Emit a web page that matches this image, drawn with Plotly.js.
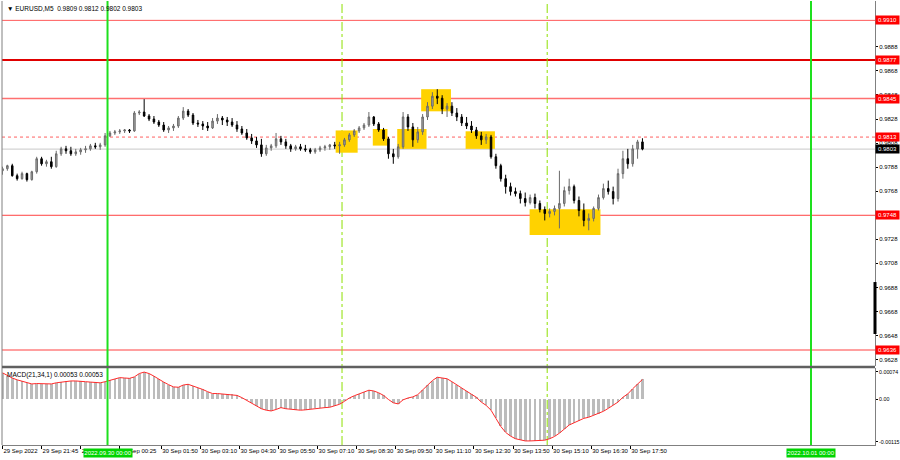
<!DOCTYPE html>
<html>
<head>
<meta charset="utf-8">
<script src="https://cdn.plot.ly/plotly-3.0.1.min.js"></script>
<style>html,body{margin:0;padding:0;background:#fff;}#chart{width:900px;height:460px;}</style>
</head>
<body>
<div id="chart"></div>
<script>
const symbol = 'EURUSD,M5';
const startTime = Date.UTC(2022, 8, 29, 20, 25);
const barMinutes = 10;

const open = [0.97850,0.97867,0.97892,0.97809,0.97784,0.97826,0.97776,0.97842,0.97950,0.97908,
0.97925,0.97884,0.97991,0.98032,0.98016,0.97991,0.98007,0.98024,0.98032,0.98057,
0.98049,0.98065,0.98140,0.98164,0.98173,0.98181,0.98189,0.98181,0.98330,0.98338,
0.98305,0.98280,0.98255,0.98230,0.98189,0.98206,0.98222,0.98288,0.98346,0.98313,
0.98247,0.98239,0.98222,0.98206,0.98263,0.98288,0.98272,0.98255,0.98230,0.98197,
0.98164,0.98123,0.98098,0.98065,0.97991,0.98040,0.98057,0.98115,0.98090,0.98057,
0.98032,0.98049,0.98032,0.98024,0.98007,0.98024,0.98040,0.98049,0.98065,0.98057,
0.98065,0.98107,0.98148,0.98181,0.98206,0.98230,0.98297,0.98239,0.98189,0.98115,
0.97991,0.97966,0.98049,0.98297,0.98214,0.98107,0.98173,0.98297,0.98387,0.98470,
0.98453,0.98363,0.98387,0.98330,0.98297,0.98247,0.98222,0.98189,0.98140,0.98107,
0.98131,0.97966,0.97892,0.97784,0.97718,0.97677,0.97660,0.97619,0.97586,0.97627,
0.97578,0.97528,0.97495,0.97512,0.97537,0.97578,0.97685,0.97718,0.97603,0.97520,
0.97437,0.97454,0.97537,0.97627,0.97702,0.97677,0.97619,0.97826,0.97950,0.97908,
0.98032,0.98090];

const high = [0.97884,0.97900,0.97908,0.97826,0.97842,0.97834,0.97850,0.97966,0.97966,0.97941,
0.97966,0.98016,0.98049,0.98057,0.98049,0.98032,0.98040,0.98057,0.98073,0.98082,
0.98082,0.98164,0.98181,0.98189,0.98197,0.98197,0.98197,0.98346,0.98354,0.98445,
0.98321,0.98305,0.98272,0.98255,0.98222,0.98239,0.98305,0.98379,0.98363,0.98330,
0.98272,0.98263,0.98255,0.98288,0.98321,0.98305,0.98297,0.98288,0.98263,0.98222,
0.98197,0.98156,0.98131,0.98115,0.98065,0.98073,0.98164,0.98140,0.98115,0.98073,
0.98065,0.98073,0.98065,0.98040,0.98040,0.98057,0.98065,0.98073,0.98090,0.98090,
0.98123,0.98164,0.98197,0.98222,0.98247,0.98338,0.98305,0.98255,0.98206,0.98131,
0.98032,0.98073,0.98338,0.98321,0.98247,0.98214,0.98321,0.98420,0.98503,0.98528,
0.98478,0.98412,0.98420,0.98371,0.98321,0.98297,0.98263,0.98214,0.98173,0.98156,
0.98148,0.97991,0.97908,0.97817,0.97751,0.97710,0.97685,0.97669,0.97652,0.97660,
0.97603,0.97553,0.97537,0.97561,0.97850,0.97718,0.97784,0.97735,0.97636,0.97578,
0.97495,0.97553,0.97652,0.97743,0.97768,0.97718,0.97867,0.98016,0.98032,0.98065,
0.98107,0.98120];

const low = [0.97817,0.97850,0.97801,0.97768,0.97776,0.97760,0.97768,0.97826,0.97892,0.97884,
0.97867,0.97875,0.97974,0.97991,0.97974,0.97974,0.97983,0.97999,0.98016,0.98032,
0.98024,0.98049,0.98131,0.98148,0.98156,0.98164,0.98164,0.98173,0.98313,0.98297,
0.98263,0.98239,0.98214,0.98173,0.98164,0.98181,0.98206,0.98272,0.98297,0.98230,
0.98214,0.98189,0.98181,0.98197,0.98239,0.98230,0.98222,0.98214,0.98173,0.98148,
0.98107,0.98073,0.98040,0.97966,0.97974,0.98016,0.98040,0.98065,0.98032,0.98007,
0.98016,0.98016,0.98007,0.97991,0.97991,0.98007,0.98016,0.98024,0.98032,0.97991,
0.98049,0.98090,0.98131,0.98164,0.98189,0.98214,0.98222,0.98173,0.98098,0.97950,
0.97908,0.97950,0.98032,0.98181,0.98049,0.98082,0.98148,0.98272,0.98363,0.98404,
0.98321,0.98297,0.98305,0.98263,0.98222,0.98197,0.98164,0.98115,0.98065,0.98073,
0.97950,0.97867,0.97760,0.97660,0.97644,0.97636,0.97578,0.97553,0.97570,0.97537,
0.97504,0.97437,0.97462,0.97479,0.97371,0.97553,0.97652,0.97578,0.97471,0.97388,
0.97355,0.97429,0.97520,0.97611,0.97652,0.97570,0.97594,0.97784,0.97867,0.97884,
0.97950,0.98020];

const close = [0.97867,0.97892,0.97809,0.97784,0.97826,0.97776,0.97842,0.97950,0.97908,0.97925,
0.97884,0.97991,0.98032,0.98016,0.97991,0.98007,0.98024,0.98032,0.98057,0.98049,
0.98065,0.98140,0.98164,0.98173,0.98181,0.98189,0.98181,0.98330,0.98338,0.98305,
0.98280,0.98255,0.98230,0.98189,0.98206,0.98222,0.98288,0.98346,0.98313,0.98247,
0.98239,0.98222,0.98206,0.98263,0.98288,0.98272,0.98255,0.98230,0.98197,0.98164,
0.98123,0.98098,0.98065,0.97991,0.98040,0.98057,0.98115,0.98090,0.98057,0.98032,
0.98049,0.98032,0.98024,0.98007,0.98024,0.98040,0.98049,0.98065,0.98057,0.98065,
0.98107,0.98148,0.98181,0.98206,0.98230,0.98297,0.98239,0.98189,0.98115,0.97991,
0.97966,0.98049,0.98297,0.98214,0.98107,0.98173,0.98297,0.98387,0.98470,0.98453,
0.98363,0.98387,0.98330,0.98297,0.98247,0.98222,0.98189,0.98140,0.98107,0.98131,
0.97966,0.97892,0.97784,0.97718,0.97677,0.97660,0.97619,0.97586,0.97627,0.97578,
0.97528,0.97495,0.97512,0.97537,0.97578,0.97685,0.97718,0.97603,0.97520,0.97437,
0.97454,0.97537,0.97627,0.97702,0.97677,0.97619,0.97826,0.97950,0.97908,0.98032,
0.98090,0.98030];

const macd = [0.00071,0.00063,0.00057,0.00052,0.00048,0.00043,0.00041,0.00042,0.00042,0.00041,
0.00041,0.00044,0.00046,0.00048,0.00049,0.00049,0.00049,0.00047,0.00046,0.00045,
0.00044,0.00047,0.00051,0.00055,0.00058,0.00057,0.00056,0.00060,0.00069,0.00073,
0.00069,0.00062,0.00053,0.00046,0.00039,0.00033,0.00032,0.00038,0.00040,0.00036,
0.00030,0.00026,0.00020,0.00015,0.00015,0.00014,0.00014,0.00013,0.00010,0.00004,
-0.00003,-0.00010,-0.00018,-0.00026,-0.00030,-0.00032,-0.00028,-0.00023,-0.00026,-0.00028,
-0.00030,-0.00030,-0.00029,-0.00027,-0.00025,-0.00024,-0.00023,-0.00022,-0.00019,-0.00014,
-0.00006,0.00003,0.00009,0.00015,0.00019,0.00024,0.00022,0.00017,0.00010,-0.00001,
-0.00010,-0.00013,-0.00002,0.00003,0.00006,0.00012,0.00025,0.00038,0.00050,0.00059,
0.00058,0.00055,0.00047,0.00038,0.00030,0.00022,0.00013,0.00005,-0.00008,-0.00017,
-0.00030,-0.00052,-0.00074,-0.00090,-0.00100,-0.00107,-0.00111,-0.00113,-0.00113,-0.00113,
-0.00112,-0.00111,-0.00107,-0.00101,-0.00092,-0.00080,-0.00070,-0.00064,-0.00058,-0.00052,
-0.00049,-0.00044,-0.00040,-0.00033,-0.00025,-0.00017,-0.00008,0.00005,0.00014,0.00028,
0.00042,0.00053];
const macdSignal = macd.slice();

const levelPrices = [0.9910, 0.9877, 0.9845, 0.9813, 0.9748, 0.9636];
const levelText = ['0.9910', '0.9877', '0.9845', '0.9813', '0.9748', '0.9636'];
const currentPrice = 0.9803;

const priceTicks = [0.9628,0.9648,0.9668,0.9688,0.9708,0.9728,0.9768,0.9788,0.9808,0.9828,0.9848,0.9868,0.9888];
const macdTicks = [0.00074, 0, -0.00115];
const macdTickText = ['0.00074', '0.00', '-0.00115'];

const timeTickVals = ['2022-09-29 20:25','2022-09-29 21:45','2022-09-29 23:05','2022-09-30 00:25','2022-09-30 01:50',
  '2022-09-30 03:10','2022-09-30 04:30','2022-09-30 05:50','2022-09-30 07:10','2022-09-30 08:30','2022-09-30 09:50',
  '2022-09-30 11:10','2022-09-30 12:30','2022-09-30 13:50','2022-09-30 15:10','2022-09-30 16:30','2022-09-30 17:50'];
const timeTickText = ['29 Sep 2022','29 Sep 21:45','29 Sep 23:05','30 Sep 00:25','30 Sep 01:50',
  '30 Sep 03:10','30 Sep 04:30','30 Sep 05:50','30 Sep 07:10','30 Sep 08:30','30 Sep 09:50',
  '30 Sep 11:10','30 Sep 12:30','30 Sep 13:50','30 Sep 15:10','30 Sep 16:30','30 Sep 17:50'];

const dayLines = ['2022-09-30 00:00', '2022-10-01 00:00'];
const dayLabels = ['2022.09.30 00:00', '2022.10.01 00:00'];
const sessionLines = ['2022-09-30 08:00', '2022-09-30 15:00'];

const zoneStart = ['2022-09-30 07:47','2022-09-30 09:03','2022-09-30 09:53','2022-09-30 10:42','2022-09-30 12:13','2022-09-30 14:24'];
const zoneEnd   = ['2022-09-30 08:32','2022-09-30 09:33','2022-09-30 10:53','2022-09-30 11:43','2022-09-30 13:13','2022-09-30 16:49'];
const zoneTop   = [0.98185, 0.98197, 0.98197, 0.98528, 0.98178, 0.97530];
const zoneBot   = [0.98000, 0.98059, 0.98032, 0.98344, 0.98032, 0.97316];

function fmt(ms){ return new Date(ms).toISOString().slice(0,16).replace('T',' '); }
const times = open.map(function(v, i){ return fmt(startTime + i * barMinutes * 60000); });

const FONT = 'Liberation Sans, Arial, sans-serif';
const fs = 6;

const candles = {
  type: 'candlestick', x: times, open: open, high: high, low: low, close: close,
  xaxis: 'x', yaxis: 'y',
  increasing: {line: {color: '#6a6a6a', width: 1}, fillcolor: '#a8a8a8'},
  decreasing: {line: {color: '#000000', width: 1}, fillcolor: '#000000'},
  whiskerwidth: 0, hoverinfo: 'skip'
};
const hist = {
  type: 'bar', x: times, y: macd, xaxis: 'x', yaxis: 'y2',
  marker: {color: '#bcbcbc', line: {width: 0}}, width: barMinutes * 60000 * 0.55, hoverinfo: 'skip'
};
const sig = {
  type: 'scatter', mode: 'lines', x: times, y: macdSignal, xaxis: 'x', yaxis: 'y2',
  line: {color: '#ff2a2a', width: 1}, hoverinfo: 'skip'
};

const levelStyle = [
  {color: '#ff5a5a', width: 1, dash: 'solid'},
  {color: '#e00000', width: 2, dash: 'solid'},
  {color: '#ff7070', width: 1.5, dash: 'solid'},
  {color: '#ff6060', width: 1, dash: 'dot'},
  {color: '#ff4040', width: 1, dash: 'solid'},
  {color: '#ff4040', width: 1, dash: 'solid'}
];

const shapes = [];
for (let i = 0; i < zoneStart.length; i++) {
  shapes.push({type: 'rect', xref: 'x', yref: 'y', x0: zoneStart[i], x1: zoneEnd[i], y0: zoneBot[i], y1: zoneTop[i],
    fillcolor: '#ffd200', line: {width: 0}, layer: 'below'});
}
shapes.push({type: 'line', xref: 'paper', yref: 'y', x0: 0, x1: 1, y0: currentPrice, y1: currentPrice, line: {color: '#c8c8c8', width: 1}, layer: 'below'});
for (let i = 0; i < levelPrices.length; i++) {
  shapes.push({type: 'line', xref: 'paper', yref: 'y', x0: 0, x1: 1, y0: levelPrices[i], y1: levelPrices[i], line: levelStyle[i], layer: 'below'});
}
for (let i = 0; i < sessionLines.length; i++) {
  shapes.push({type: 'line', xref: 'x', yref: 'paper', x0: sessionLines[i], x1: sessionLines[i], y0: 0, y1: 1, line: {color: '#8ee000', width: 1, dash: 'dashdot'}, layer: 'below'});
}
for (let i = 0; i < dayLines.length; i++) {
  shapes.push({type: 'line', xref: 'x', yref: 'paper', x0: dayLines[i], x1: dayLines[i], y0: 0, y1: 1, line: {color: '#1ee01e', width: 2}, layer: 'above'});
}
shapes.push({type: 'line', xref: 'paper', yref: 'paper', x0: 0, x1: 0, y0: 0, y1: 1, line: {color: '#808080', width: 1}});
shapes.push({type: 'line', xref: 'paper', yref: 'paper', x0: 0, x1: 1, y0: 0.1757, y1: 0.1757, line: {color: '#606060', width: 2.5}});
shapes.push({type: 'line', xref: 'paper', yref: 'y', x0: 1, x1: 1, y0: 0.96493, y1: 0.96925, line: {color: '#000000', width: 3}});

const annotations = [];
const last = open.length - 1;
const ohlcText = [open[last], high[last], low[last], close[last]].map(function(v){ return v.toFixed(4); }).join(' ');
annotations.push({xref: 'paper', yref: 'paper', x: 0, y: 1, xanchor: 'left', yanchor: 'top', xshift: 3, yshift: -2, showarrow: false,
  text: '\u25BC ' + symbol + '  ' + ohlcText,
  font: {family: FONT, size: 6.5, color: '#000'}});
annotations.push({xref: 'paper', yref: 'paper', x: 0, y: 0.1734, xanchor: 'left', yanchor: 'top', xshift: 3, yshift: -1, showarrow: false,
  text: 'MACD(21,34,1) ' + macd[last].toFixed(5) + ' ' + macdSignal[last].toFixed(5),
  font: {family: FONT, size: 6.5, color: '#000'}});
for (let i = 0; i < levelPrices.length; i++) {
  annotations.push({xref: 'paper', yref: 'y', x: 1, y: levelPrices[i], xanchor: 'left', yanchor: 'middle', showarrow: false,
    text: levelText[i], bgcolor: '#ff0000', font: {family: FONT, size: fs, color: '#ffffff'}, width: 23, height: 8, borderpad: 0});
}
annotations.push({xref: 'paper', yref: 'y', x: 1, y: currentPrice, xanchor: 'left', yanchor: 'middle', showarrow: false,
  text: currentPrice.toFixed(4), bgcolor: '#000000', font: {family: FONT, size: fs, color: '#ffffff'}, width: 23, height: 8, borderpad: 0});
for (let i = 0; i < dayLines.length; i++) {
  annotations.push({xref: 'x', yref: 'paper', x: dayLines[i], y: 0, xanchor: 'center', yanchor: 'top', yshift: -3, showarrow: false,
    text: dayLabels[i], bgcolor: '#00d400', font: {family: FONT, size: fs, color: '#ffffff'}, width: 48, height: 8, borderpad: 0});
}

const layout = {
  width: 900, height: 460,
  margin: {l: 2, r: 25, t: 1, b: 15},
  paper_bgcolor: '#ffffff', plot_bgcolor: '#ffffff',
  showlegend: false, bargap: 0, boxgap: 0.55,
  xaxis: {type: 'date', range: ['2022-09-29 20:24', '2022-10-01 02:11'], anchor: 'y2',
    tickvals: timeTickVals, ticktext: timeTickText, ticklabelposition: 'outside right', tickangle: 0,
    ticks: 'outside', ticklen: 3, tickcolor: '#000', showgrid: false, zeroline: false,
    showline: true, linecolor: '#808080', linewidth: 1,
    tickfont: {family: FONT, size: fs, color: '#000'}, rangeslider: {visible: false}, fixedrange: true},
  yaxis: {domain: [0.1779, 1], range: [0.96227, 0.99261], side: 'right', anchor: 'x',
    tickvals: priceTicks, tickformat: '.4f', ticks: 'outside', ticklen: 2, tickcolor: '#000',
    showgrid: false, zeroline: false, showline: true, linecolor: '#808080',
    tickfont: {family: FONT, size: fs, color: '#000'}},
  yaxis2: {domain: [0, 0.1734], range: [-0.00124, 0.00084], side: 'right', anchor: 'x',
    tickvals: macdTicks, ticktext: macdTickText, ticks: 'outside', ticklen: 2, tickcolor: '#000',
    showgrid: false, zeroline: false, showline: true, linecolor: '#808080',
    tickfont: {family: FONT, size: 5.3, color: '#000'}},
  shapes: shapes,
  annotations: annotations
};

Plotly.newPlot('chart', [candles, hist, sig], layout, {staticPlot: true, displayModeBar: false});
</script>
</body>
</html>
